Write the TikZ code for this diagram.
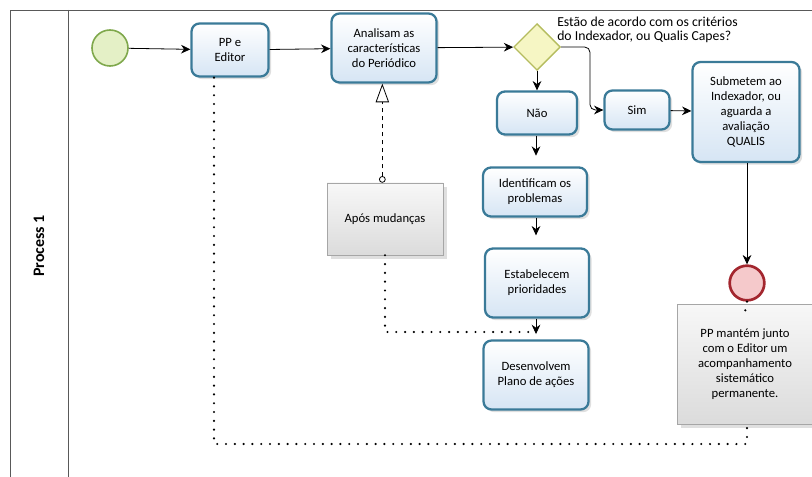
\documentclass[tikz,border=0pt]{standalone}
\usepackage{fontspec}
\setmainfont{Carlito}
\usepackage{xcolor}
\usetikzlibrary{arrows.meta}
\usetikzlibrary{shapes.geometric}
\usetikzlibrary{shadows}

\definecolor{taskline}{HTML}{3A7A98}
\definecolor{taskfill}{HTML}{D6E5F4}
\definecolor{startline}{HTML}{7FA84C}
\definecolor{startfill}{HTML}{E4F0C6}
\definecolor{endline}{HTML}{A3262E}
\definecolor{endfill}{HTML}{F5C9CB}
\definecolor{gwline}{HTML}{B5BC5E}
\definecolor{gwfill}{HTML}{F6F6C4}
\definecolor{noteline}{HTML}{A6A6A6}

\tikzset{
  task/.style={rectangle, rounded corners=6pt, draw=taskline, line width=1.7pt,
    top color=white, bottom color=taskfill, align=center, inner sep=1pt,
    drop shadow={shadow xshift=2pt, shadow yshift=-2pt, opacity=0.25}},
  note/.style={rectangle, draw=noteline, top color=gray!6, bottom color=gray!28,
    align=center, inner sep=1pt,
    drop shadow={shadow xshift=3pt, shadow yshift=-3pt, opacity=0.25}},
  startev/.style={circle, draw=startline, line width=1.2pt, fill=startfill,
    minimum size=27pt, inner sep=0pt},
  endev/.style={circle, draw=endline, line width=2pt, fill=endfill,
    minimum size=26pt, inner sep=0pt},
  gateway/.style={diamond, draw=gwline, line width=1pt, fill=gwfill,
    minimum size=35pt, inner sep=0pt},
  flow/.style={-{Stealth[length=7pt, width=6.5pt]}, line width=0.6pt},
  dotline/.style={line width=1.8pt, dash pattern=on 0pt off 6.6pt, line cap=round},
  assoc/.style={{Circle[open, length=5pt, width=5pt, fill=white]}-{Triangle[open, length=14pt, width=10pt, fill=white]},
    dashed, line width=0.6pt}
}

\begin{document}
\begin{tikzpicture}[x=0.75pt, y=-0.75pt, font=\fontsize{9.5}{11.3}\selectfont]
\useasboundingbox (0,0) rectangle (812,477);

% pool and lane
\draw[line width=0.6pt, gray!70!black] (812,10) -- (10,10) -- (10,477);
\draw[line width=0.6pt, gray!70!black] (68,10) -- (68,477);
\node (lane) at (39,246) [rotate=90, font=\fontsize{12}{13}\selectfont\bfseries] {Process 1};

% events and gateway
\node (start) at (110,48) [startev] {};
\node (gw) at (537,47) [gateway] {};
\node (endev) at (747,283) [endev] {};
\node (question) at (557,30) [anchor=west, align=left, inner sep=0pt,
  font=\fontsize{10.3}{11}\selectfont] {Estão de acordo com os critérios\\do Indexador, ou Qualis Capes?};

% tasks
\node (pp) at (230,50) [task, minimum width=57.75pt, minimum height=39.75pt] {PP e\\Editor};
\node (anal) at (384,48) [task, minimum width=78.75pt, minimum height=51.75pt] {Analisam as\\características\\do Periódico};
\node (nao) at (537,113) [task, minimum width=60pt, minimum height=32.25pt] {Não};
\node (sim) at (637,110) [task, minimum width=48.75pt, minimum height=29.25pt] {Sim};
\node (sub) at (746,112) [task, minimum width=80.25pt, minimum height=75pt] {Submetem ao\\Indexador, ou\\aguarda a\\avaliação\\QUALIS};
\node (ident) at (535,192) [task, minimum width=78pt, minimum height=36.75pt] {Identificam os\\problemas};
\node (estab) at (537,283) [task, minimum width=78pt, minimum height=51.75pt] {Estabelecem\\prioridades};
\node (desenv) at (536,375) [task, minimum width=78.75pt, minimum height=51.75pt] {Desenvolvem\\Plano de ações};

% annotations
\node (apos) at (385,219) [note, minimum width=87pt, minimum height=54pt] {Após mudanças};
\node (perm) at (745,364) [note, minimum width=102pt, minimum height=90pt] {PP mantém junto\\com o Editor um\\acompanhamento\\sistemático\\permanente.};

% sequence flows
\draw[flow] (start) -- (pp);
\draw[flow] (pp) -- (anal);
\draw[flow] (anal) -- (gw);
\coordinate (gwturn) at (590,47);
\draw[flow, rounded corners=4pt] (gw.east) -- (gwturn) |- (sim.west);
\draw[flow] (sim) -- (sub);
\draw[flow] (sub.south -| endev) -- (endev);
\draw[flow] (gw) -- (gw |- nao.north);
\draw[flow, shorten >=8pt] (nao.south -| 536,0) -- (ident.north -| 536,0);
\draw[flow, shorten >=9pt] (ident.south -| 536,0) -- (estab.north -| 536,0);
\draw[flow, shorten >=4pt] (estab.south -| 536,0) -- (desenv.north -| 536,0);

% associations
\draw[assoc] ([xshift=-2pt]apos.north) -- ([xshift=-2pt]apos.north |- anal.south);
\coordinate (aposend) at (533,332);
\draw[dotline] (apos.south) |- (aposend);
\draw[dotline] (endev.south) -- ([yshift=-6pt]perm.north);
\coordinate (loopbot) at (747,444);
\draw[dotline] ([xshift=-12pt]pp.south) |- (loopbot) -- (perm.south -| loopbot);
\end{tikzpicture}
\end{document}
